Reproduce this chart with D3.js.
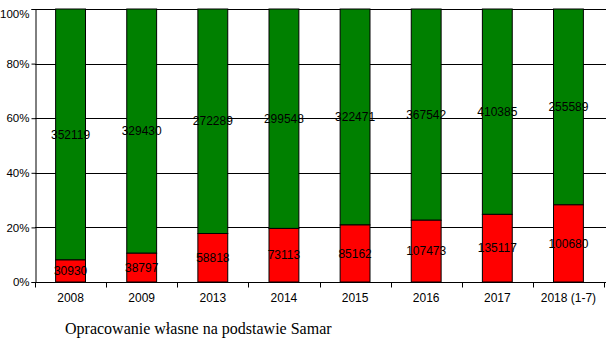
<!DOCTYPE html>
<html><head><meta charset="utf-8">
<script src="https://cdn.jsdelivr.net/npm/d3@7"></script>
<style>body{margin:0;background:#fff}</style>
</head><body>
<svg id="c" width="606" height="345"></svg>
<script>
const categories = ["2008","2009","2013","2014","2015","2016","2017","2018 (1-7)"];
const redValues = [30930,38797,58818,73113,85162,107473,135117,100680];
const greenValues = [352119,329430,272289,299548,322471,367542,410385,255589];
const yTicks = [0,0.2,0.4,0.6,0.8,1.0];

const svg = d3.select("#c");
const x0 = 35, x1 = 604, yB = 282, yT = 9;
const x = d3.scaleBand().domain(categories).range([x0, x1]).paddingInner(0.58).paddingOuter(0.29);
const y = d3.scaleLinear().domain([0,1]).range([yB, yT]);

// gridlines
svg.append("g").selectAll("line").data(yTicks.slice(1)).join("line")
  .attr("x1", x0).attr("x2", 606).attr("y1", d=>Math.round(y(d))+0.5).attr("y2", d=>Math.round(y(d))+0.5)
  .attr("stroke","#000").attr("stroke-width",1);

const data = categories.map((c,i)=>{const t=redValues[i]+greenValues[i];return {c, r:redValues[i], g:greenValues[i], rf:redValues[i]/t};});

const bars = svg.append("g");
bars.selectAll("rect.g").data(data).join("rect")
  .attr("x", d=>x(d.c)).attr("width", x.bandwidth())
  .attr("y", y(1)).attr("height", d=>y(d.rf)-y(1))
  .attr("fill","#008000").attr("stroke","#000").attr("stroke-width",1);
bars.selectAll("rect.r").data(data).join("rect")
  .attr("x", d=>x(d.c)).attr("width", x.bandwidth())
  .attr("y", d=>y(d.rf)).attr("height", d=>y(0)-y(d.rf))
  .attr("fill","#ff0000").attr("stroke","#000").attr("stroke-width",1);

// labels
const lab = svg.append("g").attr("font-family","Liberation Sans, Arial, sans-serif").attr("font-size",12).attr("text-anchor","middle").attr("fill","#000");
lab.selectAll("text.g").data(data).join("text")
  .attr("x", d=>x(d.c)+x.bandwidth()/2).attr("y", d=>(y(1)+y(d.rf))/2).attr("dy","0.35em").text(d=>d.g);
lab.selectAll("text.r").data(data).join("text")
  .attr("x", d=>x(d.c)+x.bandwidth()/2).attr("y", d=>(y(0)+y(d.rf))/2).attr("dy","0.35em").text(d=>d.r);

// y axis
const ya = svg.append("g").attr("transform",`translate(${x0+0.5},0)`)
  .call(d3.axisLeft(y).tickValues(yTicks).tickFormat(d3.format(".0%")).tickSize(4).tickPadding(2));
ya.select(".domain").attr("stroke","#000");
ya.selectAll("text").attr("font-family","Liberation Sans, Arial, sans-serif").attr("font-size",11.5).attr("fill","#000");
ya.selectAll("text").filter(d=>d===1).attr("dy","0.7em");

// x axis
const xa = svg.append("g").attr("transform",`translate(0,${yB+0.5})`);
xa.append("line").attr("x1",x0).attr("x2",606).attr("stroke","#000");
const bounds = categories.map((c,i)=>x0 + i*((x1-x0)/categories.length)).concat([x1]);
xa.selectAll("line.t").data(bounds).join("line").attr("x1",d=>Math.round(d)+0.5).attr("x2",d=>Math.round(d)+0.5).attr("y1",0).attr("y2",5).attr("stroke","#000");
xa.selectAll("text").data(categories).join("text")
  .attr("x", d=>x(d)+x.bandwidth()/2).attr("y", 19)
  .attr("text-anchor","middle").attr("font-family","Liberation Sans, Arial, sans-serif").attr("font-size",12).text(d=>d);

svg.append("text").attr("x",65).attr("y",334).attr("font-family","Liberation Serif, Times New Roman, serif").attr("font-size",16).text("Opracowanie własne na podstawie Samar");
</script>
</body></html>
